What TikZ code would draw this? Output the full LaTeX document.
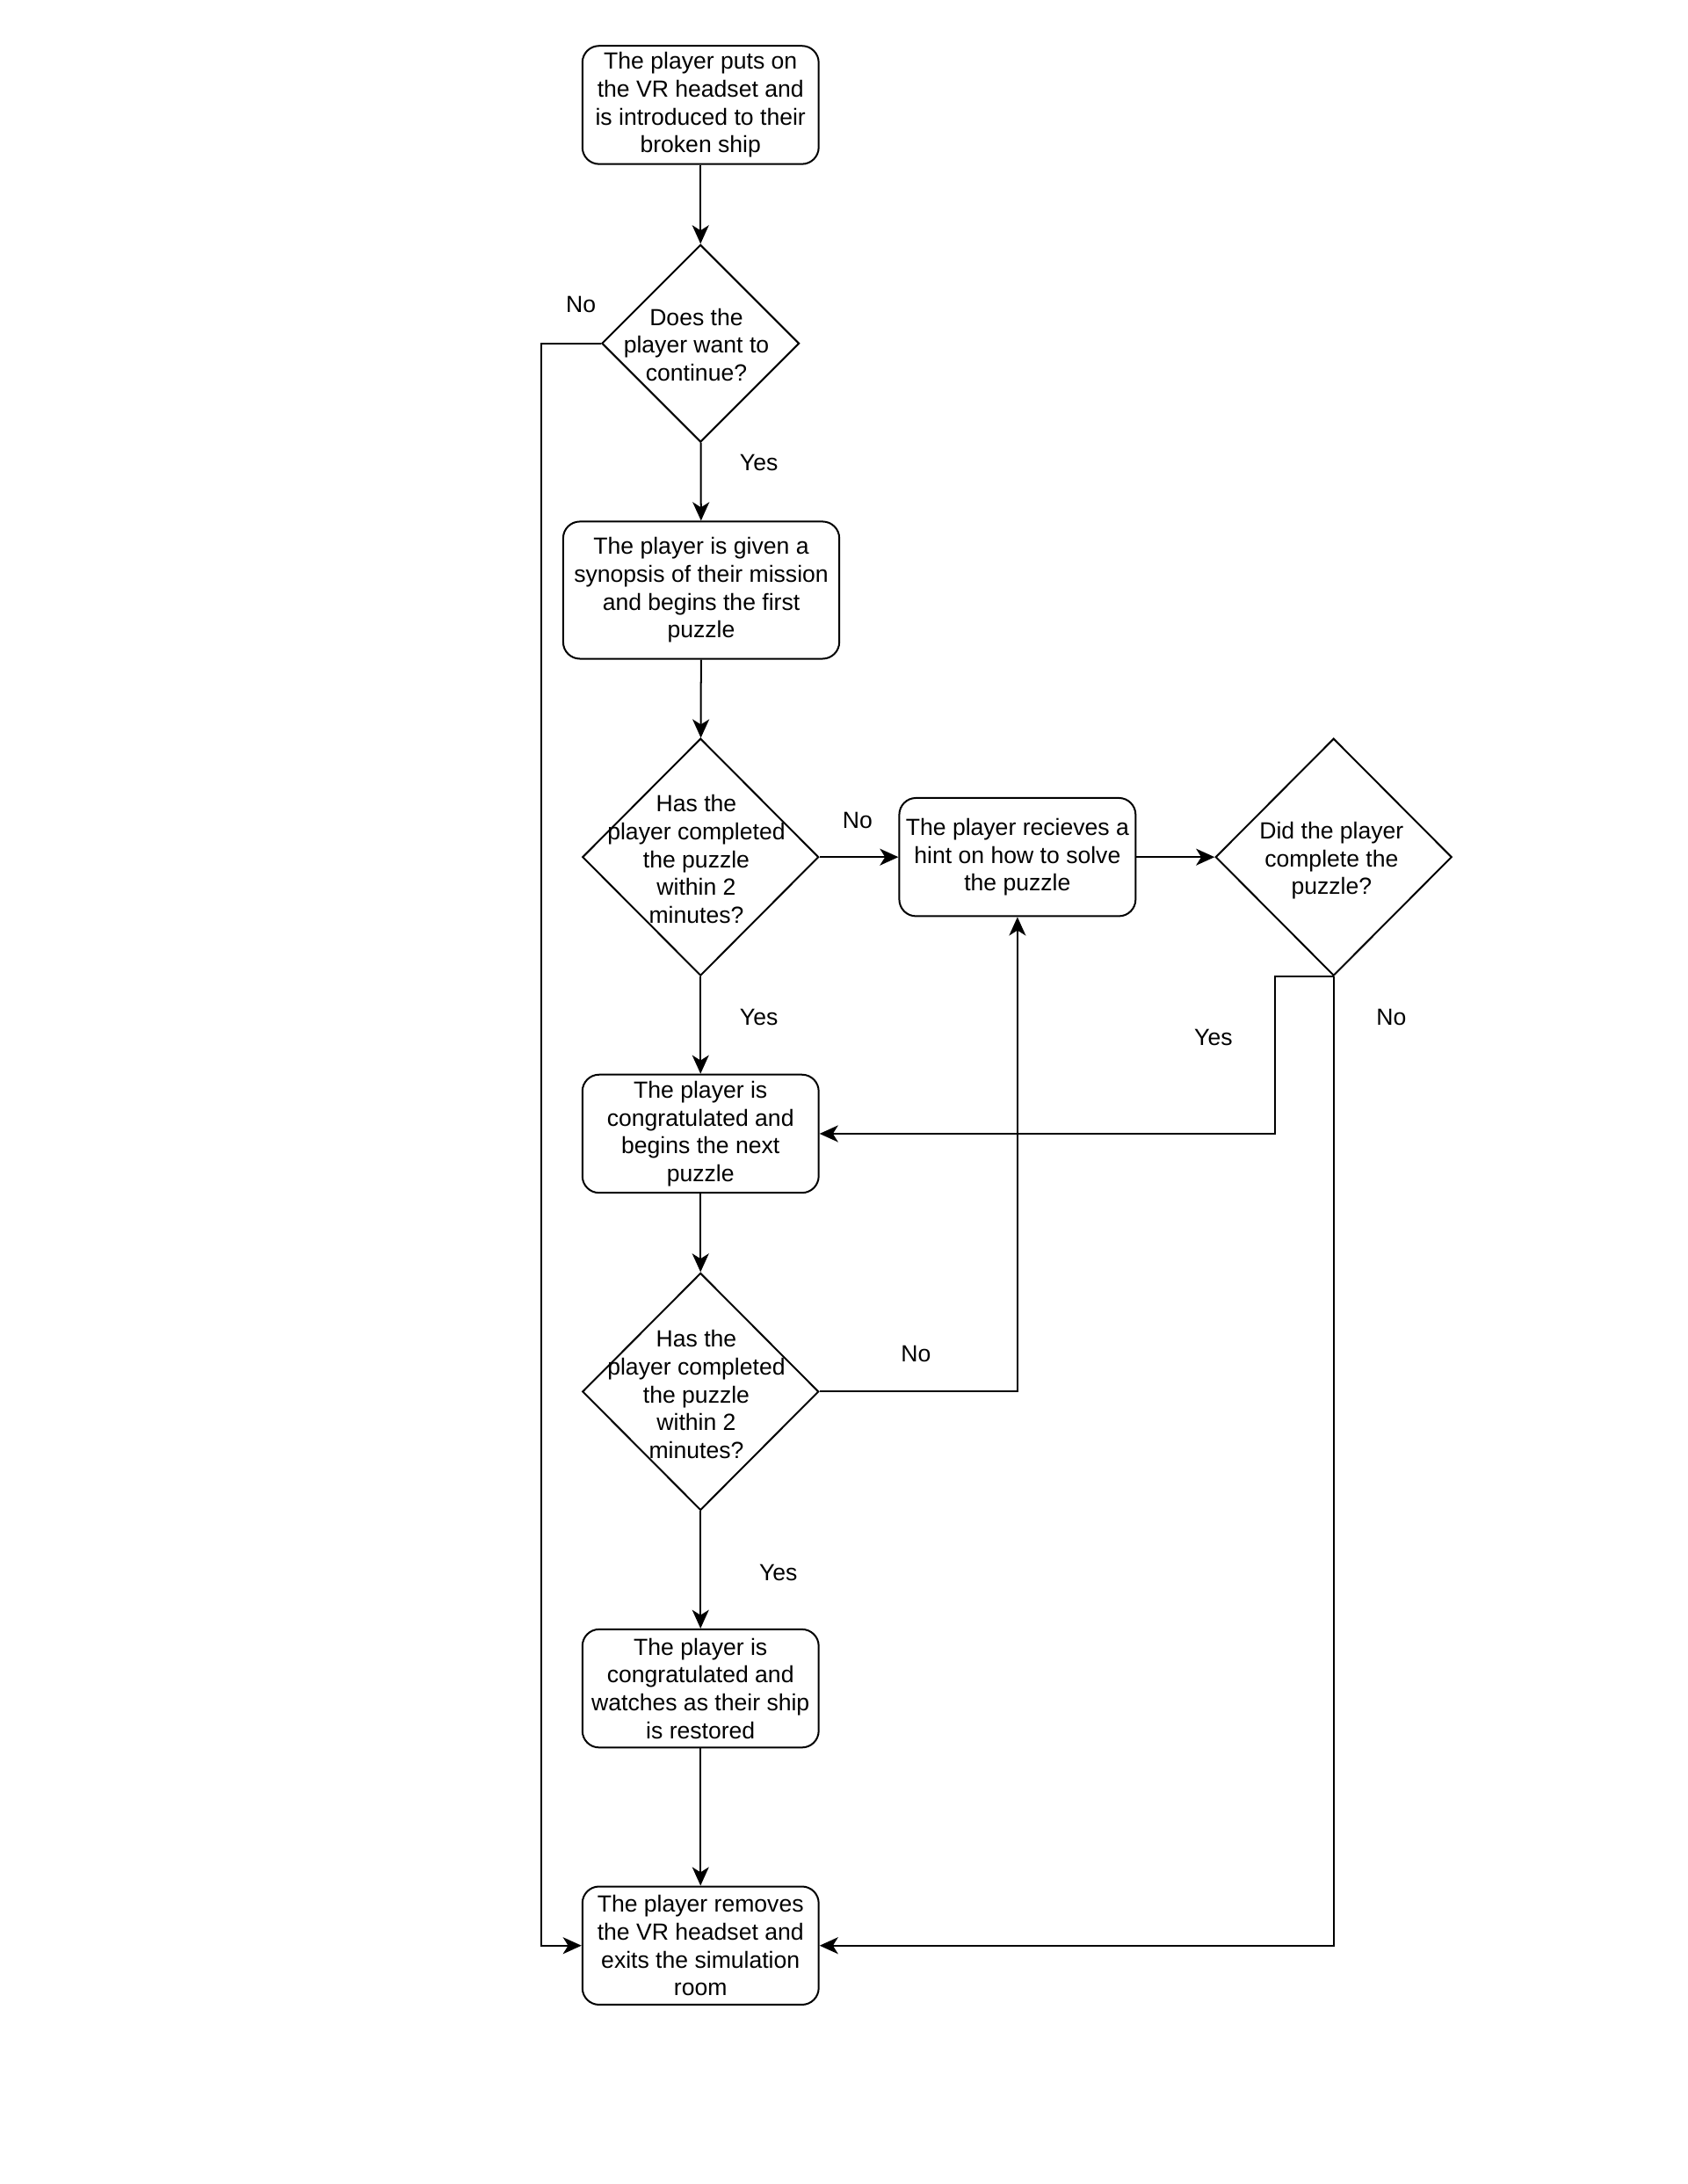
\documentclass[tikz,border=0pt]{standalone}
\usepackage{fontspec}
\setmainfont{Liberation Sans}
\usetikzlibrary{positioning,shapes.geometric,arrows.meta}

\begin{document}
\begin{tikzpicture}[x=0.75pt,y=-0.75pt,
  font=\fontsize{12.6}{15}\selectfont,
  box/.style={draw,rounded corners=9pt,align=center,inner sep=2pt,minimum width=127.5pt,minimum height=63.75pt,line width=0.95pt,execute at begin node={\rule{0pt}{16pt}}},
  dec/.style={draw,diamond,inner sep=0pt,minimum width=127.5pt,minimum height=128pt,line width=0.95pt},
  >={Stealth[length=10pt,width=9pt,inset=2.8pt]}, line width=0.95pt]
\useasboundingbox (0,0) rectangle (1214,1571);
\node [box] (S) at (504,75.5) {The player puts on\\the VR headset and\\is introduced to their\\broken ship};
\node [dec,minimum width=106.5pt,minimum height=106.5pt] (D1) at (504,247) {};
\node [align=center] (D1t) at (501,248) {Does the\\player want to\\continue?};
\node [box,minimum width=149pt,minimum height=74pt] (B2) at (504.5,424.5) {The player is given a\\synopsis of their mission\\and begins the first\\puzzle};
\node [dec] (D2) at (504,616.5) {};
\node [align=center] (D2t) at (501,618) {Has the\\player completed\\the puzzle\\within 2\\minutes?};
\node [box] (H) at (732,616.5) {The player recieves a\\hint on how to solve\\the puzzle};
\node [dec] (D3) at (959.5,616.5) {};
\node [align=center] (D3t) at (958,619) {Did the player\\complete the\\puzzle?};
\node [box] (B3) at (504,815.5) {The player is\\congratulated and\\begins the next\\puzzle};
\node [dec] (D4) at (504,1001) {};
\node [align=center] (D4t) at (501,1003) {Has the\\player completed\\the puzzle\\within 2\\minutes?};
\node [box] (B4) at (504,1214.5) {The player is\\congratulated and\\watches as their ship\\is restored};
\node [box] (E) at (504,1399.5) {The player removes\\the VR headset and\\exits the simulation\\room};
% labels
\node (n1) at (418,219) {No};
\node (y1) at (546,333) {Yes};
\node (n2) at (617,590) {No};
\node (y2) at (546,732) {Yes};
\node (y3) at (873,746) {Yes};
\node (n3) at (1001,732) {No};
\node (n4) at (659,974) {No};
\node (y4) at (560,1131) {Yes};
% arrows
\draw [->] (S) -- (D1);
\draw [->] (D1) -- (B2);
\draw [->] (B2) -- (D2);
\draw [->] (D2) -- (H);
\draw [->] (H) -- (D3);
\draw [->] (D2) -- (B3);
\draw [->] (D3.south) -- ++(-42.5,0) |- (B3.east);
\draw [->] (D3.south) |- (E.east);
\draw [->] (B3) -- (D4);
\draw [->] (D4.east) -| (H.south);
\draw [->] (D4) -- (B4);
\draw [->] (B4) -- (E);
\draw [->] (D1.west) -- ++(-43,0) |- (E.west);
\end{tikzpicture}
\end{document}
